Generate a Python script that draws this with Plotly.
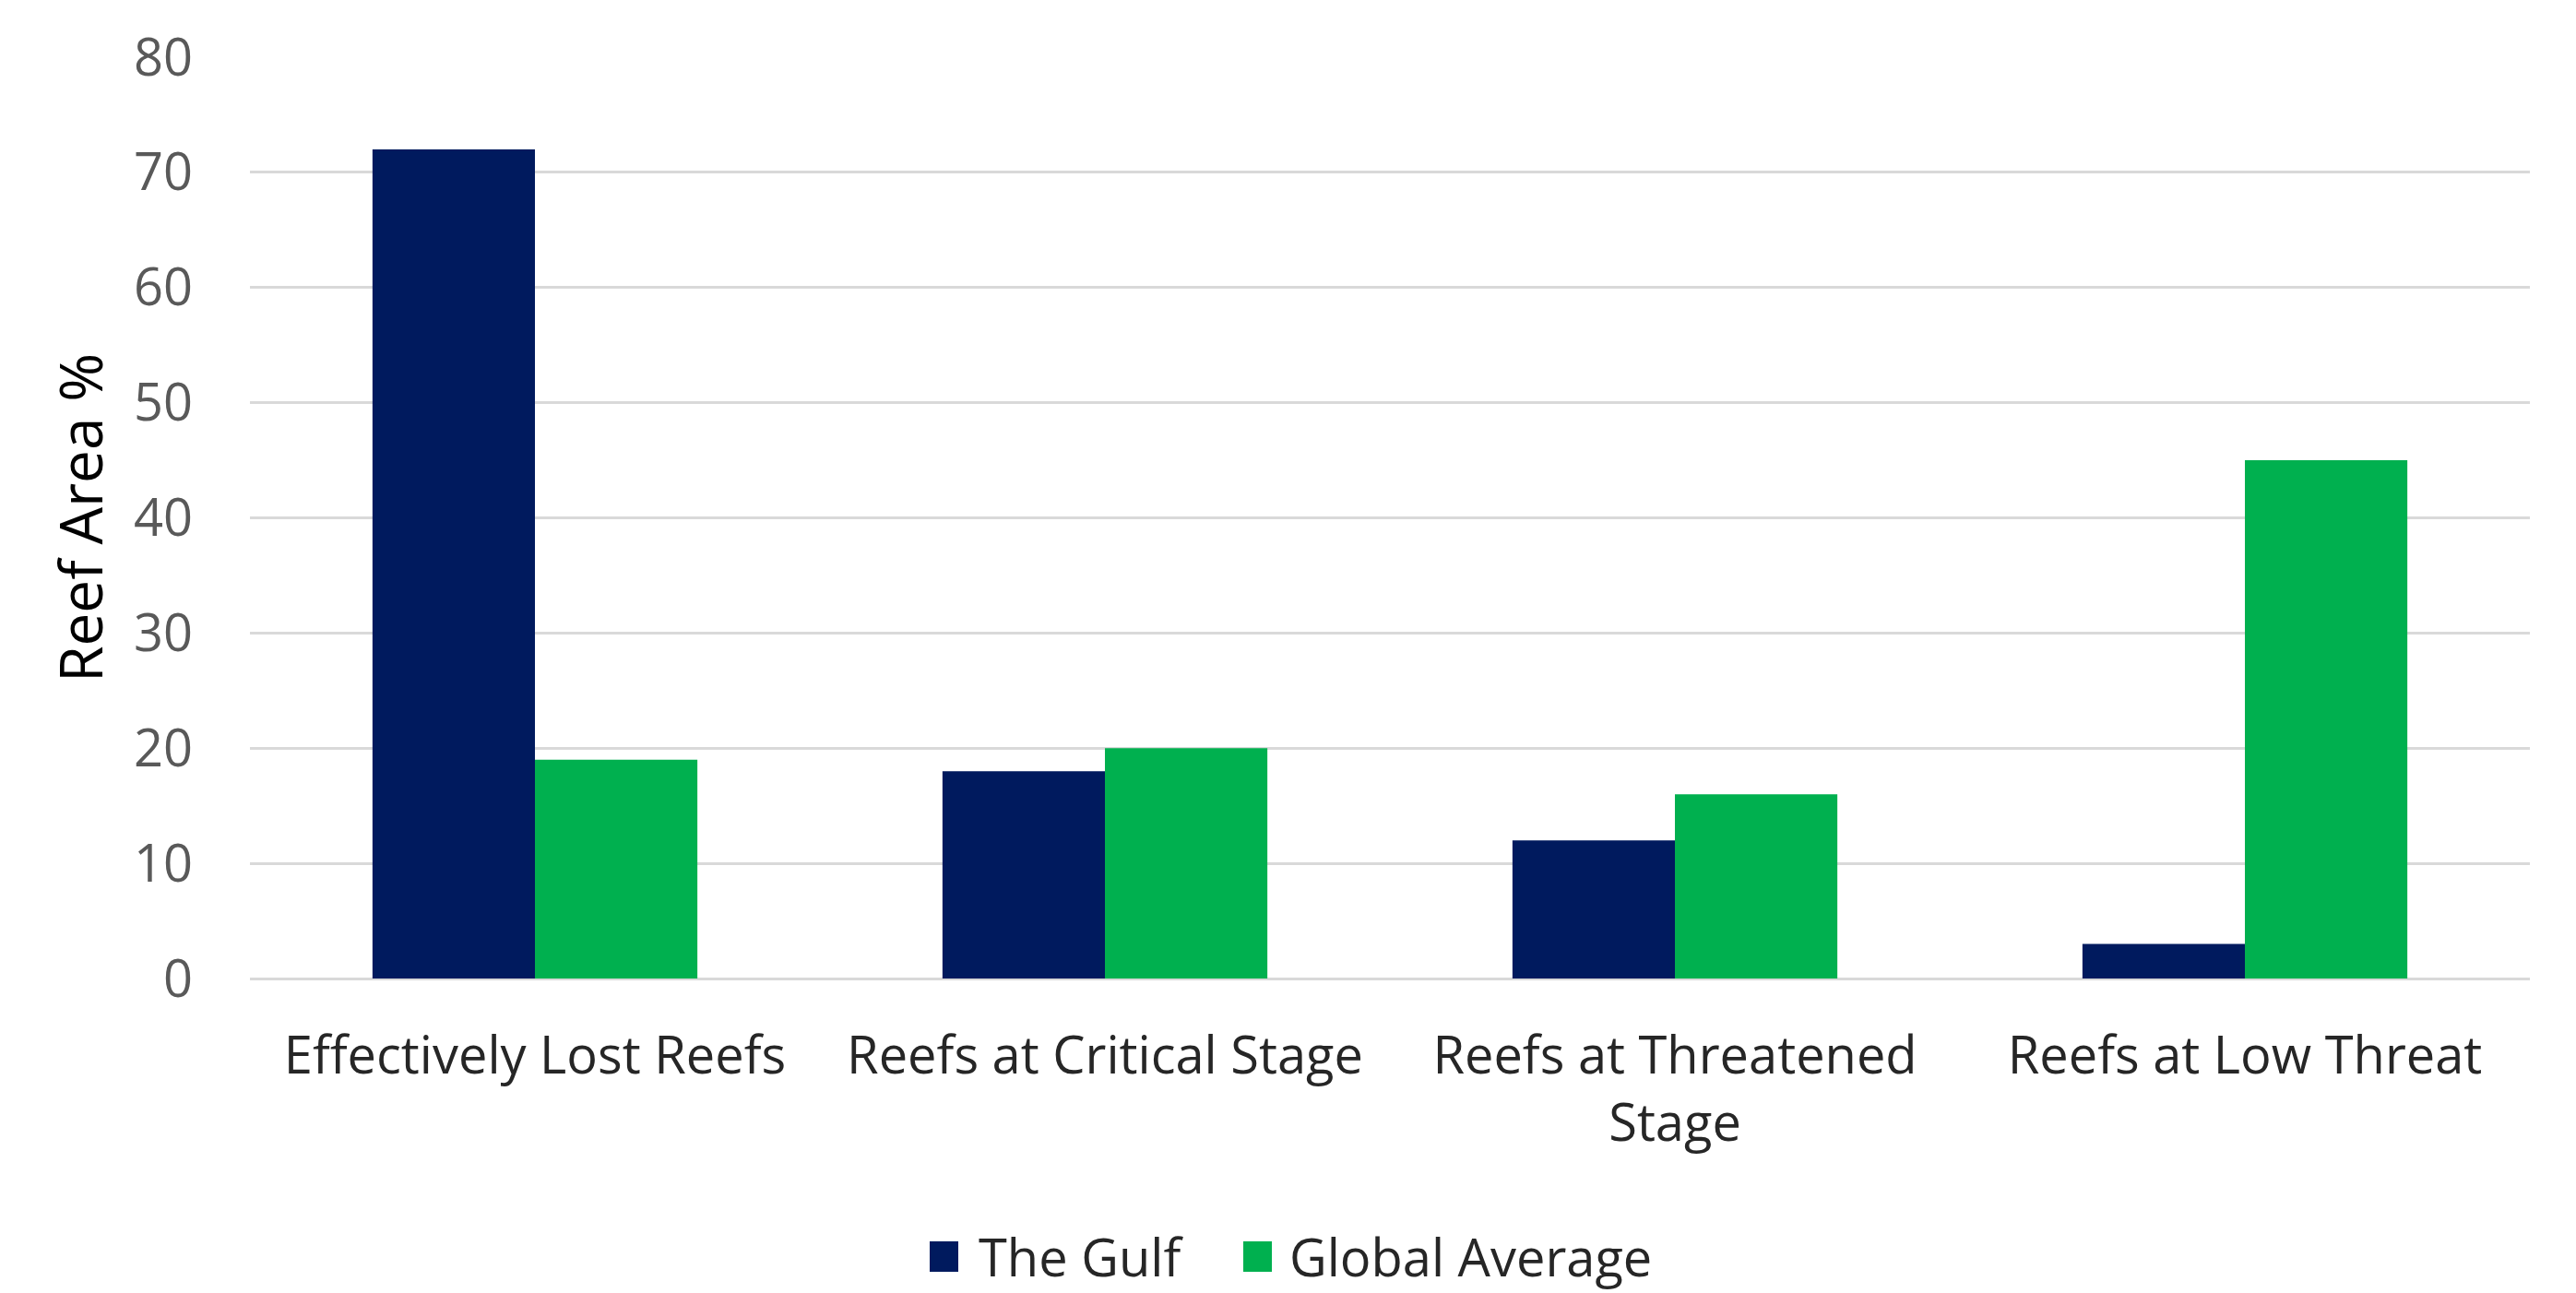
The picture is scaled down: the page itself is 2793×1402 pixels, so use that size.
import plotly.graph_objects as go

categories = ["Effectively Lost Reefs", "Reefs at Critical Stage",
              "Reefs at Threatened<br>Stage", "Reefs at Low Threat"]
series_names = ["The Gulf", "Global Average"]
gulf = [72, 18, 12, 3]
global_avg = [19, 20, 16, 45]
y_ticks = [0, 10, 20, 30, 40, 50, 60, 70, 80]
colors = ["#001A5E", "#00B04F"]

OFF = 8  # page body margin
W, H = 2793 - OFF, 1402 - OFF
ML, MR, MT, MB = 271 - OFF, 50, 62 - OFF, 341
FONT = "Open Sans"

fig = go.Figure()
for name, vals, col in zip(series_names, [gulf, global_avg], colors):
    fig.add_trace(go.Bar(x=categories, y=vals, name=name,
                         marker=dict(color=col, line=dict(width=0)),
                         showlegend=False))

pw = W - ML - MR
ph = H - MT - MB

def px_x(p):
    return (p - OFF - ML) / pw

def px_y(p):
    return (H - MB - (p - OFF)) / ph

# manual legend (larger swatches than plotly's built-in)
legend_items = [(1008, 1059), (1348, 1396)]
for (sq_x, tx_x), name, col in zip(legend_items, series_names, colors):
    fig.add_shape(type="rect", xref="paper", yref="paper",
                  x0=px_x(sq_x), x1=px_x(sq_x + 31),
                  y0=px_y(1346), y1=px_y(1379),
                  fillcolor=col, line=dict(width=0))
    fig.add_annotation(xref="paper", yref="paper", x=px_x(tx_x), y=px_y(1362),
                       text=name, showarrow=False, xanchor="left", yanchor="middle",
                       font=dict(family=FONT, size=56, color="#262626"))

fig.update_layout(
    width=W, height=H,
    margin=dict(l=ML, r=MR, t=MT, b=MB, autoexpand=False),
    paper_bgcolor="white", plot_bgcolor="white",
    barmode="group", bargap=0.43, bargroupgap=0,
    font=dict(family=FONT, size=56, color="#262626"),
)
fig.update_xaxes(
    showgrid=False, showline=False, ticks="", automargin=False,
    tickfont=dict(family=FONT, size=56, color="#262626"),
    ticklabelstandoff=46,
)
fig.update_yaxes(
    range=[0, 80], tickvals=y_ticks, automargin=False,
    showgrid=True, gridcolor="#D9D9D9", gridwidth=3,
    zeroline=True, zerolinecolor="#D9D9D9", zerolinewidth=3,
    showline=False, ticks="",
    tickfont=dict(family=FONT, size=56, color="#595959"),
    ticklabelstandoff=61,
    title=dict(text="Reef Area %", font=dict(family=FONT, size=64, color="#000000"),
               standoff=12),
)

fig.write_html("out.html")
